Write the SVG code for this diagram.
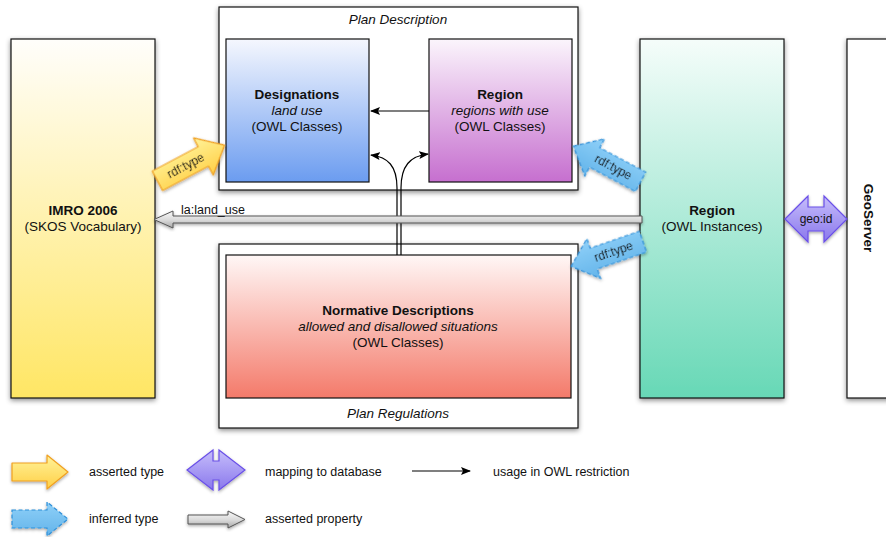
<svg xmlns="http://www.w3.org/2000/svg" width="886" height="537" viewBox="0 0 886 537">
<defs>
<filter id="sh" x="-20%" y="-20%" width="140%" height="140%">
<feDropShadow dx="0" dy="2" stdDeviation="2.5" flood-color="#000" flood-opacity="0.45"/>
</filter>
<filter id="sh2" x="-20%" y="-20%" width="140%" height="140%">
<feDropShadow dx="0" dy="1.5" stdDeviation="1.5" flood-color="#000" flood-opacity="0.35"/>
</filter>
<linearGradient id="gYel" x1="0" y1="0" x2="0" y2="1"><stop offset="0" stop-color="#fffefb"/><stop offset="1" stop-color="#ffe664"/></linearGradient>
<linearGradient id="gBlue" x1="0" y1="0" x2="0" y2="1"><stop offset="0" stop-color="#f5f7fe"/><stop offset="1" stop-color="#6b9cf0"/></linearGradient>
<linearGradient id="gPur" x1="0" y1="0" x2="0" y2="1"><stop offset="0" stop-color="#fbf5fc"/><stop offset="1" stop-color="#c66fcf"/></linearGradient>
<linearGradient id="gRed" x1="0" y1="0" x2="0" y2="1"><stop offset="0" stop-color="#fff7f6"/><stop offset="1" stop-color="#f47a6a"/></linearGradient>
<linearGradient id="gGrn" x1="0" y1="0" x2="0" y2="1"><stop offset="0" stop-color="#f5fdfa"/><stop offset="1" stop-color="#67d8b6"/></linearGradient>
<linearGradient id="gAY" x1="0" y1="0" x2="0" y2="1"><stop offset="0" stop-color="#fff39a"/><stop offset="1" stop-color="#ffcf45"/></linearGradient>
<linearGradient id="gAB" x1="0" y1="0" x2="0" y2="1"><stop offset="0" stop-color="#8fd0f8"/><stop offset="1" stop-color="#63b4ea"/></linearGradient>
<linearGradient id="gAP" x1="0" y1="0" x2="0" y2="1"><stop offset="0" stop-color="#c6bdfb"/><stop offset="1" stop-color="#8a78ec"/></linearGradient>
<linearGradient id="gAG" x1="0" y1="0" x2="0" y2="1"><stop offset="0" stop-color="#fafafa"/><stop offset="0.55" stop-color="#d8d8d8"/><stop offset="1" stop-color="#a8a8a8"/></linearGradient>
<marker id="ah" viewBox="0 0 10 10" refX="9" refY="5" markerWidth="10" markerHeight="10" markerUnits="userSpaceOnUse" orient="auto">
<path d="M0,1 L10,5 L0,9 L2,5 Z" fill="#000"/>
</marker>
<style>
text{font-family:"Liberation Sans",Arial,Helvetica,sans-serif;fill:#111;}
.t{font-size:13.5px;text-anchor:middle;}
.b{font-weight:bold;}
.i{font-style:italic;}
.s{font-size:12.5px;}
.sm{font-size:12px;text-anchor:middle;}
.box{stroke:#111;stroke-width:1.2;}
.ya{fill:url(#gAY);stroke:#f0a020;stroke-width:1.2;stroke-linejoin:round;}
.ba{fill:url(#gAB);stroke:#2f8fd8;stroke-width:1.2;stroke-dasharray:4,2.5;}
.pa{fill:url(#gAP);stroke:#6a50e8;stroke-width:1.2;}
.ga{fill:url(#gAG);stroke:#555;stroke-width:1;}
.ln{fill:none;stroke:#000;stroke-width:1.2;}
</style>
</defs>

<g id="imro">
<rect class="box" x="11" y="39" width="144" height="359" fill="url(#gYel)" filter="url(#sh)"/>
<text class="t b" x="83" y="215">IMRO 2006</text>
<text class="t" x="83" y="231">(SKOS Vocabulary)</text>
</g>

<g id="plan-description">
<rect class="box" x="219" y="7" width="359" height="183" fill="#fff" filter="url(#sh)"/>
<text class="t i" x="398" y="24">Plan Description</text>
</g>

<g id="designations">
<rect class="box" x="226" y="39" width="143" height="143" fill="url(#gBlue)"/>
<text class="t b" x="297" y="99">Designations</text>
<text class="t i" x="297" y="115">land use</text>
<text class="t" x="297" y="131">(OWL Classes)</text>
</g>

<g id="region-class">
<rect class="box" x="429" y="39" width="143" height="143" fill="url(#gPur)"/>
<text class="t b" x="500" y="99">Region</text>
<text class="t i" x="500" y="115">regions with use</text>
<text class="t" x="500" y="131">(OWL Classes)</text>
</g>

<g id="plan-regulations">
<rect class="box" x="219" y="244" width="359" height="184" fill="#fff" filter="url(#sh)"/>
<text class="t i" x="398" y="418">Plan Regulations</text>
</g>

<g id="normative">
<rect class="box" x="226" y="255" width="345" height="143" fill="url(#gRed)"/>
<text class="t b" x="398" y="315">Normative Descriptions</text>
<text class="t i" x="398" y="331">allowed and disallowed situations</text>
<text class="t" x="398" y="347">(OWL Classes)</text>
</g>

<g id="region-instances">
<rect class="box" x="640" y="39" width="144" height="359" fill="url(#gGrn)" filter="url(#sh)"/>
<text class="t b" x="712" y="215">Region</text>
<text class="t" x="712" y="231">(OWL Instances)</text>
</g>

<g id="geoserver">
<rect class="box" x="847" y="39" width="50" height="359" fill="#fff" filter="url(#sh)"/>
<text class="t b" transform="translate(864,218) rotate(90)" x="0" y="0">GeoServer</text>
</g>

<g id="connectors">
<path class="ln" d="M429,111 L371,111" marker-end="url(#ah)"/>
<path class="ln" d="M397,255 L397,188 C397,166 388,157 371,155" marker-end="url(#ah)"/>
<path class="ln" d="M401,255 L401,188 C401,166 410,156 428,154" marker-end="url(#ah)"/>

<g filter="url(#sh2)">
<path class="ga" d="M642,216 L173,216 L173,211 L154,219.5 L173,228 L173,223 L642,223 Z"/>
</g>
<text class="s" x="181" y="214">la:land_use</text>

<g transform="translate(191,163) rotate(-28) translate(-38,0)" filter="url(#sh2)">
<path class="ya" d="M0,-11 L52,-11 L52,-21 L76,0 L52,21 L52,11 L0,11 Z"/>
<text class="sm" x="32" y="4">rdf:type</text>
</g>

<g transform="translate(607,164) rotate(28) translate(-38,0)" filter="url(#sh2)">
<path class="ba" d="M0,0 L24,-21 L24,-11 L76,-11 L76,11 L24,11 L24,21 Z"/>
<text class="sm" x="45" y="4">rdf:type</text>
</g>

<g transform="translate(607,254) rotate(-19) translate(-38,0)" filter="url(#sh2)">
<path class="ba" d="M0,0 L24,-21 L24,-11 L76,-11 L76,11 L24,11 L24,21 Z"/>
<text class="sm" x="45" y="4">rdf:type</text>
</g>

<g filter="url(#sh2)">
<path class="pa" d="M785,219 L808,196 L808,207 L824,207 L824,196 L847,219 L824,242 L824,231 L808,231 L808,242 Z"/>
</g>
<text class="sm" x="816" y="223">geo:id</text>
</g>

<g id="legend">
<g filter="url(#sh2)">
<path class="ya" d="M12,463 L47,463 L47,455 L68,472 L47,489 L47,481 L12,481 Z"/>
</g>
<text class="s" x="89" y="476">asserted type</text>

<g filter="url(#sh2)">
<path class="pa" d="M187,470 L213,450 L213,461 L219,461 L219,450 L245,470 L219,490 L219,480 L213,480 L213,490 Z"/>
</g>
<text class="s" x="265" y="476">mapping to database</text>

<path class="ln" d="M412,471 L470,471" marker-end="url(#ah)"/>
<text class="s" x="493" y="476">usage in OWL restriction</text>

<g filter="url(#sh2)">
<path class="ba" d="M12,510 L47,510 L47,502 L68,519 L47,536 L47,528 L12,528 Z"/>
</g>
<text class="s" x="89" y="523">inferred type</text>

<g filter="url(#sh2)">
<path class="ga" d="M188,515 L228,515 L228,511 L245,519.5 L228,528 L228,524 L188,524 Z"/>
</g>
<text class="s" x="265" y="523">asserted property</text>
</g>
</svg>
